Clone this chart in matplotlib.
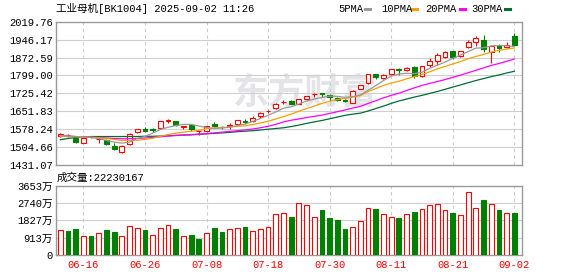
import matplotlib
matplotlib.use('Agg')
import matplotlib.pyplot as plt
from matplotlib.patches import Rectangle
from matplotlib.lines import Line2D

plt.rcParams['font.family'] = ['Liberation Mono', 'Noto Sans CJK SC']

# ---- data ----
title = '工业母机[BK1004] 2025-09-02 11:26'
last_volume = 22230167

dates = ['06-11', '06-12', '06-13', '06-16', '06-17', '06-18', '06-19', '06-20', '06-23', '06-24',
         '06-25', '06-26', '06-27', '06-30', '07-01', '07-02', '07-03', '07-04', '07-07', '07-08',
         '07-09', '07-10', '07-11', '07-14', '07-15', '07-16', '07-17', '07-18', '07-21', '07-22',
         '07-23', '07-24', '07-25', '07-28', '07-29', '07-30', '07-31', '08-01', '08-04', '08-05',
         '08-06', '08-07', '08-08', '08-11', '08-12', '08-13', '08-14', '08-15', '08-18', '08-19',
         '08-20', '08-21', '08-22', '08-25', '08-26', '08-27', '08-28', '08-29', '09-01', '09-02']

opens = [1551, 1553, 1543, 1522, 1548, 1537, 1534, 1511, 1486, 1516,
         1565, 1578, 1577, 1585, 1612, 1610, 1587, 1594, 1569, 1569,
         1599, 1588, 1593, 1600, 1611, 1611, 1631, 1651, 1667, 1689,
         1696, 1682, 1701, 1722, 1725, 1720, 1706, 1697, 1687, 1745,
         1767, 1803, 1789, 1805, 1827, 1822, 1832, 1795, 1840, 1860,
         1874, 1900, 1877, 1915, 1935, 1944, 1896, 1921, 1915, 1961]
closes = [1559, 1555, 1524.5, 1540, 1545, 1538, 1519, 1496, 1511, 1559,
          1577, 1570, 1576, 1610, 1614, 1596, 1592, 1578, 1571, 1592,
          1591, 1586, 1595, 1614, 1609, 1626, 1646, 1653, 1683, 1691,
          1683, 1701, 1713, 1723, 1722, 1709, 1698, 1694, 1737, 1758,
          1803, 1793, 1800, 1825, 1823, 1830, 1797, 1837, 1859, 1882,
          1896, 1873, 1899, 1935, 1951, 1906, 1919, 1912, 1926, 1926]
highs = [1564, 1560, 1545, 1541, 1552, 1542, 1538, 1520, 1513, 1561,
         1579, 1589, 1584, 1612, 1622, 1611, 1593, 1595, 1572, 1593,
         1609, 1592, 1603, 1616, 1618, 1633, 1650, 1659, 1684, 1697,
         1697, 1702, 1714, 1725, 1725, 1721, 1710, 1702, 1739, 1760,
         1804, 1804, 1806, 1826, 1831, 1835, 1836, 1838, 1869, 1891,
         1898, 1901, 1900, 1943, 1962, 1965, 1922, 1929, 1937, 1973]
lows = [1545, 1548, 1522, 1520, 1540, 1520, 1514, 1494, 1479, 1514,
        1561, 1568, 1568, 1583, 1603, 1590, 1581, 1570, 1556, 1565,
        1589, 1580, 1581, 1598, 1600, 1606, 1623, 1645, 1661, 1681,
        1682, 1680, 1696, 1711, 1709, 1696, 1693, 1688, 1685, 1743,
        1765, 1784, 1786, 1800, 1800, 1819, 1789, 1793, 1833, 1841,
        1872, 1868, 1875, 1911, 1921, 1896, 1852, 1896, 1910, 1918]

ma5 = [1552, 1550, 1548, 1546, 1544, 1540, 1532, 1525, 1521, 1525,
       1540, 1548, 1562, 1577, 1586, 1593, 1598, 1598, 1591, 1585,
       1581, 1583, 1586, 1593, 1599, 1610, 1622, 1635, 1649, 1664,
       1670, 1682, 1694, 1702, 1709, 1714, 1713, 1709, 1712, 1719,
       1738, 1757, 1778, 1796, 1805, 1808, 1806, 1812, 1828, 1841,
       1854, 1869, 1882, 1897, 1911, 1913, 1920, 1922, 1921, 1918]
ma10 = [1549, 1548, 1547, 1546, 1545, 1543, 1540, 1536, 1532, 1532,
        1533, 1536, 1541, 1549, 1556, 1562, 1566, 1570, 1573, 1580,
        1583, 1585, 1587, 1590, 1592, 1597, 1604, 1611, 1620, 1630,
        1640, 1652, 1663, 1673, 1684, 1693, 1700, 1705, 1710, 1716,
        1733, 1745, 1758, 1768, 1775, 1785, 1794, 1803, 1814, 1826,
        1836, 1846, 1856, 1868, 1877, 1885, 1895, 1902, 1907, 1912]
ma20 = [1551, 1550, 1548, 1546, 1545, 1544, 1542, 1540, 1539, 1539,
        1540, 1542, 1544, 1547, 1550, 1552, 1554, 1556, 1558, 1560,
        1563, 1566, 1569, 1572, 1575, 1579, 1584, 1590, 1598, 1608,
        1615, 1620, 1626, 1631, 1636, 1643, 1650, 1657, 1665, 1672,
        1684, 1695, 1707, 1717, 1726, 1737, 1748, 1758, 1766, 1774,
        1782, 1791, 1800, 1810, 1820, 1830, 1840, 1848, 1857, 1866]
ma30 = [1535, 1540, 1544, 1547, 1548, 1548, 1548, 1548, 1548, 1548,
        1548, 1549, 1549, 1550, 1551, 1553, 1554, 1555, 1557, 1559,
        1561, 1563, 1565, 1568, 1570, 1572, 1575, 1578, 1581, 1584,
        1589, 1595, 1602, 1608, 1614, 1621, 1628, 1635, 1640, 1644,
        1653, 1663, 1673, 1684, 1694, 1702, 1710, 1717, 1725, 1733,
        1742, 1751, 1760, 1769, 1778, 1786, 1794, 1801, 1809, 1816]

# volume in 万
volumes = [1335, 1250, 1355, 970, 985, 1145, 1300, 1195, 985, 1510,
           1405, 1300, 1040, 1405, 1565, 1355, 985, 1040, 825, 1145,
           1405, 1195, 1340, 1445, 1460, 1235, 1340, 1495, 2145, 2235,
           1985, 2760, 2620, 2025, 2355, 1935, 1830, 1355, 1495, 1815,
           2500, 2410, 2145, 1985, 1935, 2145, 2250, 2445, 2620, 2710,
           2395, 2200, 2090, 3340, 2500, 2935, 2710, 2355, 2235, 2223]
vol_up = [1, 0, 0, 1, 0, 1, 0, 0, 1, 1,
          1, 0, 1, 1, 1, 0, 1, 0, 0, 1,
          0, 0, 1, 1, 0, 1, 1, 1, 1, 1,
          0, 1, 1, 1, 0, 0, 0, 0, 1, 1,
          1, 0, 1, 1, 0, 1, 0, 1, 1, 1,
          1, 0, 1, 1, 1, 0, 1, 0, 1, 0]

price_ticks = [1431.07, 1504.66, 1578.24, 1651.83, 1725.42, 1799.00, 1872.59, 1946.17, 2019.76]
vol_ticks = [0, 913, 1827, 2740, 3653]
date_ticks = ['06-16', '06-26', '07-08', '07-18', '07-30', '08-11', '08-21', '09-02']

ma_names = ['5PMA', '10PMA', '20PMA', '30PMA']
ma_colors = ['#999999', '#f5a000', '#ff00ff', '#006c36']

RED = '#ff0000'
GREEN = '#008000'
FS = 7.6

fig = plt.figure(figsize=(5.78, 2.76), dpi=100)
ax = fig.add_axes([55.7 / 578, 1 - 165 / 276, 466.6 / 578, 143.3 / 276])
axv = fig.add_axes([55.7 / 578, 1 - 254.7 / 276, 466.6 / 578, 68.7 / 276])

n = len(dates)
xs = list(range(n))
tick_idx = [dates.index(d) for d in date_ticks]
w = 0.62

# candles
for i in xs:
    o, c, h, l = opens[i], closes[i], highs[i], lows[i]
    col = RED if c >= o else GREEN
    ax.plot([i, i], [l, h], color=col, lw=0.8, zorder=3, solid_capstyle='butt')
    body = Rectangle((i - w / 2, min(o, c)), w, abs(c - o),
                     facecolor='white' if c >= o else GREEN,
                     edgecolor=col, lw=0.8, zorder=4)
    ax.add_patch(body)

# moving averages
for vals, col in zip([ma30, ma20, ma10, ma5], ma_colors[::-1]):
    ax.plot(xs, vals, color=col, lw=0.9, zorder=5)

# volume bars
for i in xs:
    if vol_up[i]:
        axv.bar(i, volumes[i], width=w, facecolor='white', edgecolor=RED, lw=0.8, zorder=3)
    else:
        axv.bar(i, volumes[i], width=w, facecolor=GREEN, edgecolor=GREEN, lw=0.8, zorder=3)

for a in (ax, axv):
    a.set_xlim(-0.6, n + 0.04)
    for s in a.spines.values():
        s.set_color('#999999')
        s.set_linewidth(1.0)
    for t in tick_idx:
        a.axvline(t, color='#cccccc', lw=0.8, ls=(0, (3, 3)), zorder=1)
    a.tick_params(length=0, labelsize=FS)

ax.set_ylim(price_ticks[0], price_ticks[-1])
ax.set_yticks(price_ticks)
ax.set_yticklabels(['%.2f' % v for v in price_ticks])
for v in price_ticks[1:-1]:
    ax.axhline(v, color='#cfcfcf', lw=0.8, zorder=1)
ax.set_xticks([])
ax.tick_params(axis='y', pad=2)

axv.set_ylim(vol_ticks[0], vol_ticks[-1])
axv.set_yticks(vol_ticks)
axv.set_yticklabels(['0'] + ['%d万' % v for v in vol_ticks[1:]])
for v in vol_ticks[1:-1]:
    axv.axhline(v, color='#cfcfcf', lw=0.8, zorder=1)
axv.set_xticks(tick_idx)
axv.set_xticklabels(date_ticks, color=RED)
axv.tick_params(axis='y', pad=2)
axv.tick_params(axis='x', pad=4)

# watermark
ax.text(0.535, 0.50, '东方财富', transform=ax.transAxes, fontsize=26, fontweight='bold',
        color='#e4e4e8', ha='center', va='center', zorder=0,
        family=['Noto Sans CJK SC'])

# title and volume caption
fig.text(56.5 / 578, 1 - 8.5 / 276, title, fontsize=FS, va='center', ha='left')
fig.text(57 / 578, 1 - 177.7 / 276, '成交量:%d' % last_volume, fontsize=FS, va='center', ha='left')

# legend
leg_x = [338, 381, 425, 471]
dash_x = [365, 412, 460, 505]
for name, col, tx, dx in zip(ma_names, ma_colors, leg_x, dash_x):
    fig.text(tx / 578, 1 - 9 / 276, name, fontsize=FS, va='center', ha='left')
    fig.add_artist(Line2D([dx / 578, (dx + 5) / 578], [1 - 9 / 276, 1 - 9 / 276],
                          transform=fig.transFigure, color=col, lw=2.2))

fig.savefig('out.png', dpi=100)
